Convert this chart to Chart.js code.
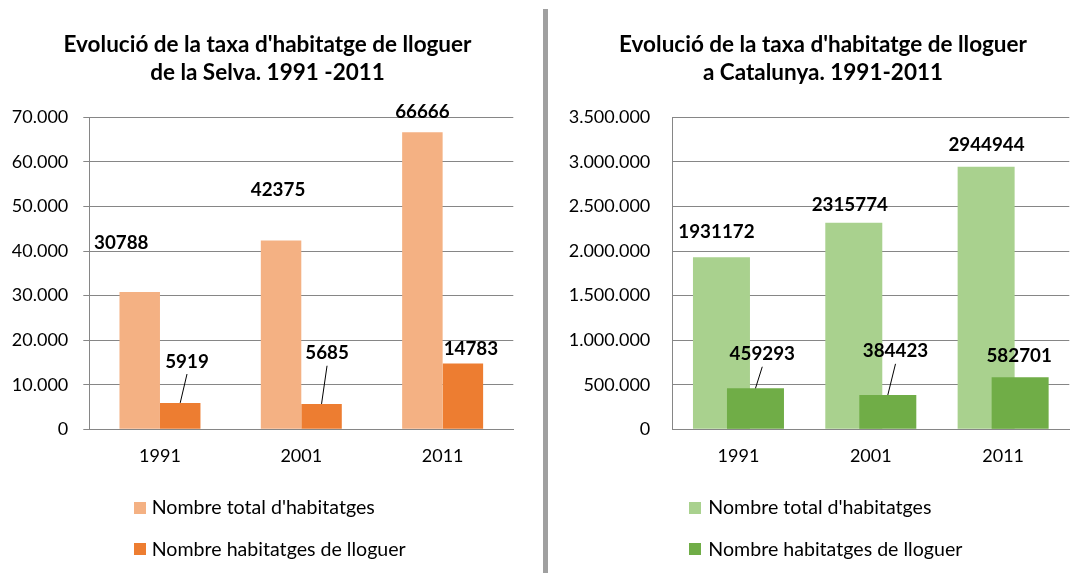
<!DOCTYPE html>
<html><head><meta charset="utf-8">
<script src="https://cdn.jsdelivr.net/npm/chart.js@4.4.0/dist/chart.umd.min.js"></script>
<style>
html,body{margin:0;padding:0;background:#fff;}
#wrap{position:relative;width:1092px;height:573px;overflow:hidden;font-family:Lato, sans-serif;}
canvas{position:absolute;top:0;}
#c1{left:0;} #c2{left:548px;}
#sep{position:absolute;left:543px;top:9px;width:5px;height:564px;background:#A0A0A0;z-index:2;}
.leg{position:absolute;font-family:Lato, sans-serif;font-size:19.6px;color:#000;white-space:nowrap;line-height:20px;height:20px}
.box{position:absolute;width:12px;height:12px}
</style></head>
<body>
<div id="wrap">
  <canvas id="c1" width="543" height="573"></canvas>
  <div id="sep"></div>
  <canvas id="c2" width="556" height="573"></canvas>
  <div id="legends"></div>
</div>
<script>
// ---- data ----
const years = ['1991', '2001', '2011'];
const seriesNames = ["Nombre total d'habitatges", "Nombre habitatges de lloguer"];
const selvaTotal = [30788, 42375, 66666];
const selvaLloguer = [5919, 5685, 14783];
const catTotal = [1931172, 2315774, 2944944];
const catLloguer = [459293, 384423, 582701];
const selvaTitle = ["Evolució de la taxa d'habitatge de lloguer", "de la Selva. 1991 -2011"];
const catTitle = ["Evolució de la taxa d'habitatge de lloguer", "a Catalunya. 1991-2011"];
const selvaAxis = {max: 70000, step: 10000};
const catAxis = {max: 3500000, step: 500000};

// ---- styling ----
const orangeColors = ['#F4B183', '#ED7D31'];
const greenColors = ['#A9D18E', '#70AD47'];
const gridColor = '#868686';
const FONT = 'Lato';
// label offsets relative to bar top centre: [dx, dy, leaderLine]
const selvaLabelPos = [[[-18.5, -49, false], [-3, -50, false], [0, -20, false]],
                       [[6.8, -41.4, true], [5.5, -50.7, true], [8, -14, false]]];
const catLabelPos = [[[-5, -25, false], [-4, -18, false], [0.4, -21.5, false]],
                     [[6.8, -34.1, true], [7.7, -43.7, true], [-1, -21.6, false]]];

function fmt(v) { return String(v).replace(/\B(?=(\d{3})+(?!\d))/g, '.'); }

const valueLabels = {
  id: 'valueLabels',
  afterDatasetsDraw(chart, args, opts) {
    const ctx = chart.ctx;
    ctx.save();
    ctx.font = 'bold 18.8px ' + FONT;
    ctx.fillStyle = '#000';
    ctx.textAlign = 'center';
    ctx.textBaseline = 'middle';
    chart.data.datasets.forEach((ds, di) => {
      const meta = chart.getDatasetMeta(di);
      meta.data.forEach((bar, i) => {
        const p = opts.pos[di][i];
        const x = bar.x + p[0], y = bar.y + p[1];
        if (p[2]) {
          ctx.beginPath();
          ctx.moveTo(x, y + 12.5);
          ctx.lineTo(bar.x, bar.y);
          ctx.strokeStyle = '#000';
          ctx.lineWidth = 1;
          ctx.stroke();
        }
        ctx.fillText(String(ds.data[i]), x, y);
      });
    });
    ctx.restore();
  }
};

// draw the first (light) dataset behind the second one
const lightBehind = {
  id: 'lightBehind',
  beforeDatasetsDraw(chart) { chart.getDatasetMeta(0).controller.draw(); },
  beforeDatasetDraw(chart, args) { if (args.index === 0) return false; }
};

function makeChart(id, title, d1, d2, colors, axis, cfg) {
  return new Chart(document.getElementById(id), {
    type: 'bar',
    data: {
      labels: years,
      datasets: [
        {label: seriesNames[0], data: d1, backgroundColor: colors[0], borderWidth: 0,
         categoryPercentage: cfg.catPct, barPercentage: cfg.barPct},
        {label: seriesNames[1], data: d2, backgroundColor: colors[1], borderWidth: 0,
         categoryPercentage: cfg.catPct, barPercentage: cfg.barPct}
      ]
    },
    options: {
      responsive: false, animation: false, devicePixelRatio: 1,
      layout: {padding: {left: 0, right: cfg.padR, top: 0, bottom: 103.7}},
      plugins: {
        legend: {display: false},
        tooltip: {enabled: false},
        title: {display: true, text: title, color: '#000',
                font: {family: FONT, weight: 'bold', size: 22.5, lineHeight: '28px'},
                padding: {top: 31, bottom: 30.3}},
        valueLabels: {pos: cfg.labelPos}
      },
      scales: {
        x: {
          grid: {display: false, drawTicks: false, tickLength: 0},
          border: {display: true, color: gridColor},
          ticks: {color: '#000', font: {family: FONT, size: 18}, padding: 16},
          afterFit(s) { s.height = 40; }
        },
        y: {
          min: 0, max: axis.max,
          ticks: {stepSize: axis.step, padding: cfg.tickPad, color: '#000',
                  font: {family: FONT, size: 18}, callback: v => fmt(v)},
          grid: {color: gridColor, drawTicks: cfg.drawTicks, tickLength: cfg.drawTicks ? 6 : 0},
          border: {display: true, color: gridColor},
          afterFit(s) { s.width = cfg.yWidth; }
        },
        // empty spacer on the right so the title centres like the original
        spacer: {
          type: 'linear', position: 'right', display: true,
          grid: {display: false, drawTicks: false}, border: {display: false},
          ticks: {display: false},
          afterFit(s) { s.width = cfg.spacer; }
        }
      }
    },
    plugins: cfg.plugins
  });
}

makeChart('c1', selvaTitle, selvaTotal, selvaLloguer, orangeColors, selvaAxis,
  {catPct: 0.573, barPct: 1.0, padR: 8, spacer: 21.7, yWidth: 89.3, tickPad: 15, drawTicks: true,
   labelPos: selvaLabelPos, plugins: [valueLabels]});
makeChart('c2', catTitle, catTotal, catLloguer, greenColors, catAxis,
  {catPct: 0.514, barPct: 1.676, padR: 6, spacer: 28.7, yWidth: 124.3, tickPad: 22, drawTicks: false,
   labelPos: catLabelPos, plugins: [lightBehind, valueLabels]});

// legends (HTML text)
const legendSpecs = [
  {colors: orangeColors, boxX: 134.3, textX: 151.7},
  {colors: greenColors, boxX: 689.3, textX: 708.3}
];
const legendRows = [501.7, 543.3];
const lg = document.getElementById('legends');
legendSpecs.forEach(spec => {
  seriesNames.forEach((name, i) => {
    const b = document.createElement('div');
    b.className = 'box';
    b.style.left = spec.boxX + 'px';
    b.style.top = legendRows[i] + 'px';
    b.style.background = spec.colors[i];
    lg.appendChild(b);
    const t = document.createElement('div');
    t.className = 'leg';
    t.style.left = spec.textX + 'px';
    t.style.top = (legendRows[i] - 4.5) + 'px';
    t.textContent = name;
    lg.appendChild(t);
  });
});
</script>
</body></html>
